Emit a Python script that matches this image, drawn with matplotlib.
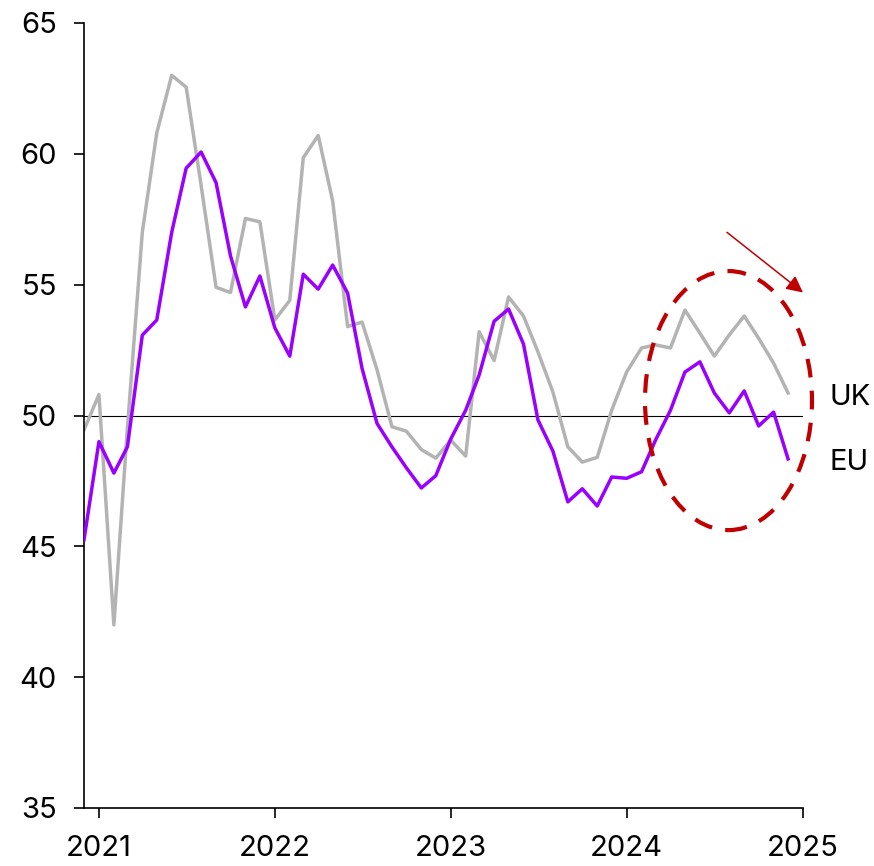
import matplotlib
matplotlib.use("Agg")
import matplotlib.pyplot as plt
import matplotlib.dates as mdates
from matplotlib.patches import Ellipse
import pandas as pd

plt.rcParams['font.family'] = ['Inter', 'DejaVu Sans']

# monthly PMI readings, Dec 2020 - Dec 2024
months = pd.date_range('2020-12-01', '2024-12-01', freq='MS')

uk = [49.45, 50.8, 42.0, 49.5, 57.0, 60.8, 63.0, 62.55, 58.8, 54.9,
      54.7, 57.53, 57.4, 53.65, 54.4, 59.85, 60.7, 58.2, 53.4, 53.57,
      51.75, 49.57, 49.4, 48.7, 48.37, 49.06, 48.45, 53.2, 52.1, 54.53,
      53.8, 52.43, 50.9, 48.8, 48.22, 48.4, 50.2, 51.66, 52.58, 52.7,
      52.58, 54.03, 53.15, 52.27, 53.08, 53.8, 52.95, 52.0, 50.86]

eu = [45.25, 49.0, 47.8, 48.8, 53.07, 53.65, 57.0, 59.45, 60.07, 58.9,
      56.1, 54.15, 55.33, 53.35, 52.27, 55.4, 54.83, 55.75, 54.68, 51.8,
      49.7, 48.8, 48.0, 47.23, 47.7, 49.1, 50.2, 51.55, 53.6, 54.07,
      52.73, 49.83, 48.64, 46.7, 47.2, 46.54, 47.65, 47.6, 47.85, 49.06,
      50.2, 51.66, 52.05, 50.86, 50.1, 50.94, 49.6, 50.13, 48.34]

years = ['2021', '2022', '2023', '2024', '2025']
yticks = [35, 40, 45, 50, 55, 60, 65]

fig = plt.figure(figsize=(8.74, 8.66), dpi=100)
ax = fig.add_axes([84 / 874, 1 - 808 / 866, (803 - 84) / 874, (808 - 23) / 866])

ax.axhline(50, color='black', lw=0.8, zorder=1)
ax.plot(months, uk, color='#b3b3b3', lw=2.5, zorder=2)
ax.plot(months, eu, color='#9900ff', lw=2.5, zorder=3)

x0 = mdates.date2num(pd.Timestamp('2020-12-01'))
x1 = mdates.date2num(pd.Timestamp('2025-01-01'))
ax.set_xlim(x0, x1)
ax.set_ylim(35, 65)

ax.set_xticks([mdates.date2num(pd.Timestamp(y + '-01-01')) for y in years])
ax.set_xticklabels(years)
ax.set_yticks(yticks)

for s in ['top', 'right']:
    ax.spines[s].set_visible(False)
for s in ['left', 'bottom']:
    ax.spines[s].set_linewidth(1.2)
ax.tick_params(axis='both', direction='out', length=7.5, width=1.2,
               labelsize=21, colors='black')
ax.tick_params(axis='y', pad=12)
ax.tick_params(axis='x', pad=12)

# highlight the recent divergence
per_px = (x1 - x0) / 719
mid = x0 + 644.5 * per_px
ax.add_patch(Ellipse((mid, 50.57), 167 * per_px, 9.9, fill=False, ec='#c00000',
                     lw=3, ls=(0, (4.5, 3.2)), zorder=4, clip_on=False))
ax.annotate('', xy=(x1, 54.7), xytext=(x0 + 643 * per_px, 57.0),
            arrowprops=dict(arrowstyle='-|>,head_length=1.0,head_width=0.5',
                            color='#c00000', lw=1.1, shrinkA=0, shrinkB=0),
            annotation_clip=False, zorder=5)

ax.text(1.037, 50.7, 'UK', transform=ax.get_yaxis_transform(), fontsize=21,
        va='center', ha='left')
ax.text(1.037, 48.2, 'EU', transform=ax.get_yaxis_transform(), fontsize=21,
        va='center', ha='left')

fig.savefig('out.png', dpi=100)
